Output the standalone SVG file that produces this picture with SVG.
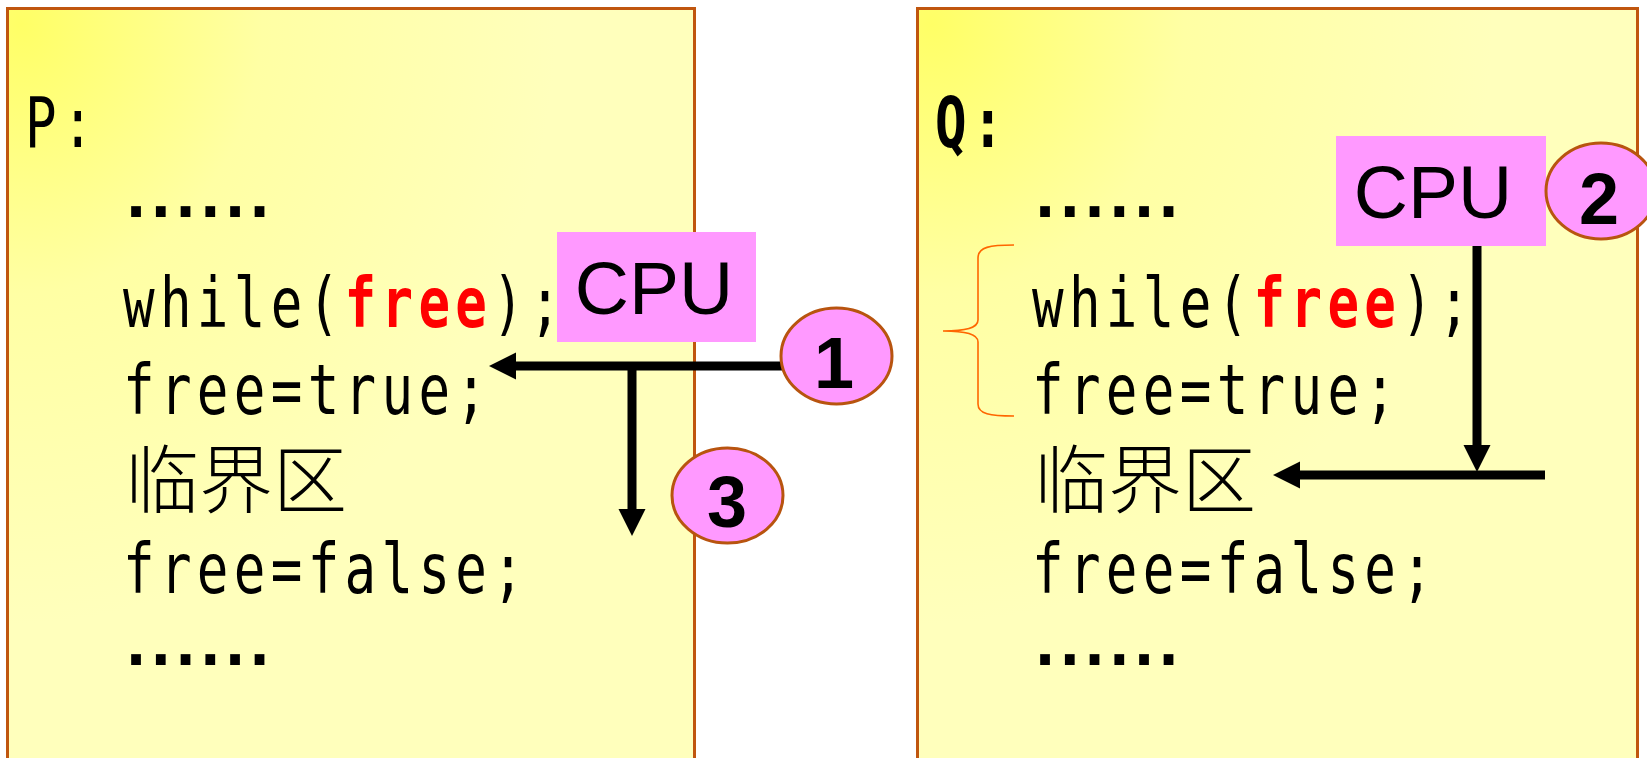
<svg xmlns="http://www.w3.org/2000/svg" width="1647" height="758" viewBox="0 0 1647 758">
<style>
.panel{stroke:#C0560E;stroke-width:3}
.code{font-family:"DejaVu Sans Mono",monospace;font-size:70px;letter-spacing:7.1px;fill:#000}
.kw{fill:#FF0000;font-weight:bold}
.dots{font-family:"DejaVu Sans Mono",monospace;font-weight:bold;font-size:60px;letter-spacing:-11.4px;fill:#000}
.cjk{font-family:"Noto Sans CJK SC",sans-serif;font-weight:300;font-size:74px;fill:#000}
.cpu rect{fill:#FF99FF}
.cpu text{font-family:"Liberation Sans",Arial,sans-serif;font-size:75px;text-anchor:middle;fill:#000}
.num ellipse{fill:#FF99FF;stroke:#B8540F;stroke-width:3}
.num text{font-family:"Liberation Sans",Arial,sans-serif;font-weight:bold;font-size:72px;text-anchor:middle;fill:#000}
.conn{stroke:#000;stroke-width:9;fill:none;marker-end:url(#ah)}
.brace{stroke:#FF6600;stroke-width:1.6;fill:none}
</style>
<defs>
<radialGradient id="bg" cx="0" cy="0" r="0.8" fx="0.02" fy="0.02">
<stop offset="0" stop-color="#FFFF66"/>
<stop offset="0.45" stop-color="#FFFFA4"/>
<stop offset="1" stop-color="#FFFFBC"/>
</radialGradient>
<marker id="ah" markerUnits="userSpaceOnUse" markerWidth="28" markerHeight="28" refX="4" refY="13.5" orient="auto" viewBox="0 0 28 28">
<path d="M0,0 L27,13.5 L0,27 Z" fill="#000"/>
</marker>
</defs>
<rect width="1647" height="758" fill="#FFFFFF"/>
<g id="panelP">
<rect class="panel" x="7.5" y="8.5" width="687" height="770" fill="url(#bg)"/>
<text class="code" transform="translate(25,147) scale(0.75,1)">P:</text>
<text class="dots" x="118" y="217">......</text>
<text class="code" transform="translate(123,327) scale(0.75,1)">while(<tspan class="kw">free</tspan>);</text>
<text class="code" transform="translate(123,414) scale(0.75,1)">free=true;</text>
<text class="cjk" x="125" y="507">临界区</text>
<text class="code" transform="translate(123,593) scale(0.75,1)">free=false;</text>
<text class="dots" x="118" y="665">......</text>
</g>
<g id="panelQ">
<rect class="panel" x="917.5" y="8.5" width="720" height="770" fill="url(#bg)"/>
<text class="code" transform="translate(935,147) scale(0.75,1)" font-weight="bold">Q:</text>
<text class="dots" x="1027" y="217">......</text>
<text class="code" transform="translate(1032,327) scale(0.75,1)">while(<tspan class="kw">free</tspan>);</text>
<text class="code" transform="translate(1032,414) scale(0.75,1)">free=true;</text>
<text class="cjk" x="1034" y="507">临界区</text>
<text class="code" transform="translate(1032,593) scale(0.75,1)">free=false;</text>
<text class="dots" x="1027" y="665">......</text>
<path id="brace" class="brace" d="M1014,245 C990,245 978,247 978,258 L978,320 C978,328 966,331 943,331 C966,331 978,334 978,342 L978,404 C978,414 990,416 1014,416"/>
</g>
<g id="connectors">
<path class="conn" d="M790,366 L512,366"/>
<path class="conn" d="M632,362 L632,513"/>
<path class="conn" d="M1477,246 L1477,449"/>
<path class="conn" d="M1545,475 L1296,475"/>
</g>
<g id="cpuP" class="cpu">
<rect x="557" y="232" width="199" height="110"/>
<text x="654" y="314">CPU</text>
</g>
<g id="cpuQ" class="cpu">
<rect x="1336" y="136" width="210" height="110"/>
<text x="1433" y="218">CPU</text>
</g>
<g id="step1" class="num">
<ellipse cx="836.5" cy="356" rx="55.5" ry="48"/>
<text x="834" y="388">1</text>
</g>
<g id="step2" class="num">
<ellipse cx="1601" cy="191" rx="55" ry="48"/>
<text x="1599" y="224">2</text>
</g>
<g id="step3" class="num">
<ellipse cx="727.5" cy="495.5" rx="55.5" ry="47.5"/>
<text x="727" y="527">3</text>
</g>
</svg>
